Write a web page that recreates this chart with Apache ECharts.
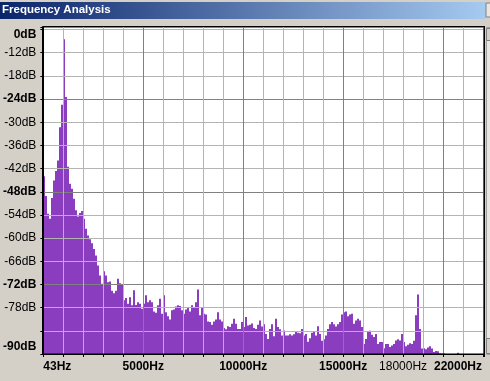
<!DOCTYPE html>
<html><head><meta charset="utf-8">
<script src="https://cdn.jsdelivr.net/npm/echarts@6/dist/echarts.min.js"></script>
<style>html,body{margin:0;padding:0;background:#d4d0c8;overflow:hidden}#c{width:490px;height:381px}</style>
</head><body><div id="c"></div>
<script>
// ---- data ----
const chartTitle = 'Frequency Analysis';
const binHz = 100; // width of each spectrum bin (Hz)
const spectrumDb = [
 -44,-49.1,-53.7,-55,-49.6,-45.1,-42.6,-39.9,-31.3,-25.5,
 -8.5,-23.5,-41.5,-45.9,-47.2,-49.8,-52.8,-54.4,-53.5,-53,
 -55,-57.6,-59.3,-60.3,-61.3,-62.8,-64.5,-67.1,-69.7,-71.8,
 -68.6,-69.7,-71.4,-71.2,-73.6,-74.3,-73.6,-70.5,-71.7,-72,
 -76.1,-75.5,-77,-75.3,-77.4,-73.5,-77.3,-76.6,-77,-78.3,
 -77,-74.8,-76.6,-76.1,-76.6,-79,-79.3,-77.4,-75.7,-79.6,
 -74.8,-79.2,-80.2,-81.1,-78.7,-78.5,-77.7,-77.4,-77.6,-78.7,
 -79.6,-78.5,-78.1,-79,-77.4,-77.9,-76.6,-73.3,-80,-77.9,
 -79.6,-79.8,-81.6,-81.7,-82.4,-81.6,-81.1,-79.2,-81.1,-81.6,
 -83.3,-83.6,-82.8,-83,-82.2,-80.9,-82.2,-83.5,-83.5,-81.7,
 -83,-80.4,-82.6,-82.4,-82.1,-83.3,-83.5,-82.4,-81.3,-82.9,
 -82.3,-84.8,-86.1,-83.5,-82.3,-85.4,-80.9,-83,-83.6,-85.2,
 -83.9,-85.2,-85.2,-84.9,-85.2,-84.9,-84.3,-84.5,-84.6,-83.5,
 -85.2,-84.8,-86.8,-85.9,-84.5,-84.3,-85.2,-82.8,-84.8,-86.6,
 -86.2,-85.2,-83.5,-82.3,-81.7,-82.3,-82.9,-82.3,-81.7,-79.8,
 -79.2,-79,-80.2,-79.8,-79.6,-82.2,-81.3,-80.9,-81.3,-83,
 -87.4,-86.1,-84.2,-84,-85,-85.6,-84.8,-87.4,-86.9,-86.9,
 -88.5,-87.4,-87.4,-88.2,-87.8,-87.4,-86.5,-86.2,-86.5,-84.8,
 -86.9,-88,-87.6,-87.2,-87.4,-86.6,-80,-74.6,-83.5,-88.6,
 -88.5,-88.8,-88.3,-88,-88.6,-89.5,-89.2,-89.3,-89.8,-89.9,
 -89.8,-90,-90,-90,-90,-90,-90,-89.7,-90,-90,
 -90,-90,-90,-90,-90,-90,-90,-90,-90,-90,
 -90
];
const xTickValues = [0, 5000, 10000, 15000, 18000, 22000];
const xTickLabels = ['43Hz', '5000Hz', '10000Hz', '15000Hz', '18000Hz', '22000Hz'];
const yTickValues = [-6, -12, -18, -24, -30, -36, -42, -48, -54, -60, -66, -72, -78, -90];
const yTickLabels = ['0dB', '-12dB', '-18dB', '-24dB', '-30dB', '-36dB', '-42dB', '-48dB', '-54dB', '-60dB', '-66dB', '-72dB', '-78dB', '-90dB'];
const freqMax = 22050;
const dbMin = -90, dbMax = -5.35;

// ---- presentation ----
const FONT = '"Liberation Sans", Arial, sans-serif';
const PURPLE = '#8a3dbe';
const MINOR = '#b4b4b4', MAJOR = '#808080';
const xStyleOf = {0: 'first', 5000: 'b', 10000: 'b', 15000: 'b', 18000: 'n', 22000: 'last'};
const yStyleOf = {'-6': 'top', '-24': 'b', '-48': 'b', '-72': 'b', '-90': 'bot'};

const base = {fontFamily: FONT, fontSize: 12, color: '#000'};
const bold = Object.assign({}, base, {fontWeight: 'bold'});

const seriesData = spectrumDb.map((v, i) => [i * binHz, v]);

const chart = echarts.init(document.getElementById('c'), null, {renderer: 'canvas'});
chart.setOption({
  animation: false,
  backgroundColor: '#d4d0c8',
  title: {
    text: chartTitle, left: 2, top: 4, padding: 0, z: 10,
    textStyle: {color: '#fff', fontFamily: FONT, fontSize: 11.5, fontWeight: 'bold'}
  },
  graphic: [
    {type: 'rect', z: -5, shape: {x: 0, y: 2, width: 486, height: 17},
     style: {fill: new echarts.graphic.LinearGradient(0, 0, 1, 0, [
       {offset: 0, color: '#0a246a'}, {offset: 1, color: '#a6caf0'}])}},
    {type: 'rect', z: -5, shape: {x: 486, y: 3, width: 6, height: 14},
     style: {fill: '#e8e6e1', stroke: '#808080', lineWidth: 1}},
    {type: 'rect', z: -5, shape: {x: 486.5, y: 27.5, width: 6, height: 327},
     style: {fill: '#e9e7e2', stroke: '#a0a0a0', lineWidth: 1}},
    {type: 'rect', z: -4, shape: {x: 486.5, y: 28.5, width: 6, height: 12},
     style: {fill: '#d4d0c8', stroke: '#808080', lineWidth: 1}},
    {type: 'rect', z: -4, shape: {x: 486.5, y: 338.5, width: 6, height: 15},
     style: {fill: '#d4d0c8', stroke: '#808080', lineWidth: 1}},
    {type: 'rect', z: 50, silent: true, shape: {x: 42.5, y: 26.5, width: 441.5, height: 327.5},
     style: {fill: null, stroke: '#000', lineWidth: 1}},
    {type: 'line', z: 50, silent: true, shape: {x1: 484.5, y1: 26, x2: 484.5, y2: 355},
     style: {stroke: '#000', lineWidth: 1}},
    {type: 'line', z: 50, silent: true, shape: {x1: 42, y1: 354.5, x2: 485, y2: 354.5},
     style: {stroke: '#000', lineWidth: 1}}
  ],
  grid: {left: 42, top: 27, right: 6, bottom: 27, show: true, backgroundColor: '#fff', borderWidth: 0, z: 0},
  xAxis: {
    type: 'value', min: 0, max: freqMax, interval: 1000, z: 8,
    axisLine: {show: true, lineStyle: {color: '#000', width: 1}},
    axisTick: {show: true, length: 3, lineStyle: {color: '#000'}},
    splitLine: {show: true, lineStyle: {color: [MAJOR, MINOR, MINOR, MINOR, MINOR], width: 1}},
    axisLabel: {
      margin: 7, showMinLabel: true, showMaxLabel: true, hideOverlap: false,
      formatter: v => {
        const k = xTickValues.indexOf(v);
        if (k < 0) return '';
        return '{' + xStyleOf[v] + '|' + xTickLabels[k] + '}';
      },
      rich: {
        b: bold, n: base,
        first: Object.assign({}, bold, {padding: [0, 0, 0, 28]}),
        last: Object.assign({}, bold, {padding: [0, 50, 0, 0]})
      }
    }
  },
  yAxis: {
    type: 'value', min: dbMin, max: dbMax, interval: 6, z: 8,
    axisLine: {show: true, lineStyle: {color: '#000', width: 1}},
    axisTick: {show: true, length: 3, lineStyle: {color: '#000'}},
    splitLine: {show: true, lineStyle: {color: [MINOR, MINOR, MINOR, MAJOR], width: 1}},
    axisLabel: {
      margin: 7, showMinLabel: true, showMaxLabel: true, hideOverlap: false,
      formatter: v => {
        const k = yTickValues.indexOf(v);
        if (k < 0) return '';
        const st = yStyleOf[String(v)] || 'n';
        return '{' + st + '|' + yTickLabels[k] + '}';
      },
      rich: {
        b: bold, n: base,
        top: Object.assign({}, bold, {padding: [11, 0, 0, 0]}),
        bot: Object.assign({}, bold, {padding: [0, 0, 14, 0]})
      }
    }
  },
  series: [{
    type: 'custom', data: seriesData, clip: true, z: 2,
    encode: {x: 0, y: 1},
    renderItem: (params, api) => {
      const f = api.value(0), db = api.value(1);
      const pTop = api.coord([f, db]);
      const pEnd = api.coord([f + binHz, dbMin]);
      const x0 = Math.round(pTop[0]), x1 = Math.round(pEnd[0]);
      return {
        type: 'rect',
        shape: {x: x0, y: pTop[1], width: x1 - x0, height: pEnd[1] - pTop[1]},
        style: {fill: PURPLE}
      };
    }
  }]
});
</script></body></html>
